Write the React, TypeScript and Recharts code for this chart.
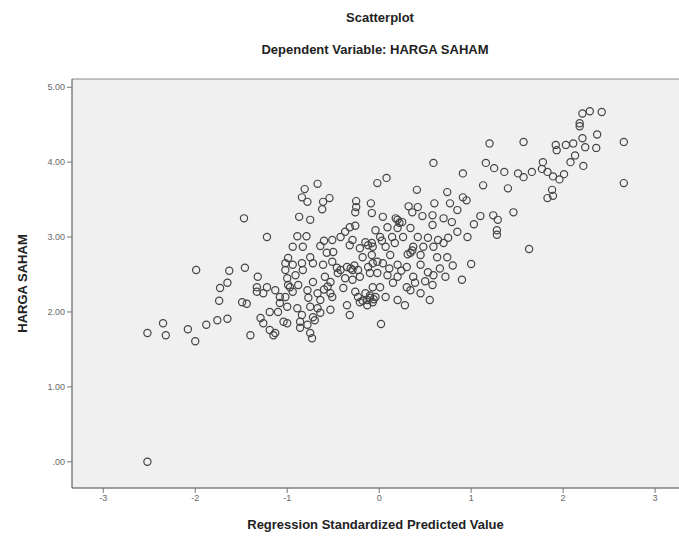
import React from 'react';
import {
	ScatterChart,
	Scatter,
	XAxis,
	YAxis,
	CartesianGrid,
	ReferenceLine,
} from 'recharts';

// [standardized predicted value, HARGA SAHAM]
const leftTail: [number, number][] = [
	[-2.52, 0.0], [-2.52, 1.72], [-2.35, 1.85], [-2.32, 1.69], [-2.08, 1.77],
	[-2.0, 1.61], [-1.99, 2.56], [-1.88, 1.83], [-1.76, 1.89], [-1.65, 1.91],
	[-1.63, 2.55], [-1.65, 2.39], [-1.73, 2.32], [-1.74, 2.15], [-1.47, 3.25],
	[-1.46, 2.59], [-1.49, 2.13], [-1.44, 2.11], [-1.4, 1.69], [-1.32, 2.47],
	[-1.33, 2.33], [-1.33, 2.27], [-1.22, 2.33], [-1.26, 2.25], [-1.22, 3.0],
	[-1.29, 1.92], [-1.26, 1.85], [-1.19, 1.76], [-1.15, 1.69], [-1.19, 2.0],
	[-1.1, 2.0], [-1.13, 2.29], [-1.08, 2.2], [-0.99, 2.36], [-0.94, 2.27],
	[-1.08, 2.12], [-1.02, 2.56], [-1.02, 2.65], [-0.94, 2.63], [-1.0, 1.85],
	[-1.04, 1.87], [-1.13, 1.72],
];

const midLeft: [number, number][] = [
	[-0.84, 2.65], [-0.75, 2.73], [-0.89, 2.05], [-0.84, 1.96], [-0.78, 1.83],
	[-0.75, 1.72], [-0.73, 1.65], [-0.86, 1.79], [-0.7, 1.89], [-0.64, 1.99],
	[-0.53, 2.03], [-0.32, 1.96], [-0.35, 2.09], [0.02, 1.84], [-0.21, 2.13],
	[-0.13, 2.16], [-0.07, 2.13], [0.07, 2.2], [-0.67, 3.71], [-0.81, 3.64],
	[-0.84, 3.53], [-0.78, 3.47], [-0.61, 3.47], [-0.54, 3.52], [-0.62, 3.37],
	[-0.25, 3.48], [-0.25, 3.4], [-0.26, 3.33], [-0.09, 3.45], [-0.08, 3.32],
	[-0.02, 3.72], [0.08, 3.79], [-0.87, 3.27], [-0.75, 3.23], [-0.32, 3.13],
	[-0.26, 3.15], [-0.37, 3.07], [-0.89, 3.01], [-0.79, 3.01], [-0.94, 2.87],
	[-0.83, 2.87], [-0.6, 2.95], [-0.51, 2.96], [-0.42, 3.0], [-0.29, 2.96],
	[-0.21, 2.85], [-0.32, 2.89], [-0.08, 2.92], [-0.04, 3.09], [-0.99, 2.72],
	[-0.64, 2.88], [-0.57, 2.79], [-0.5, 2.8], [-0.18, 2.73], [-0.08, 2.76],
	[-0.83, 2.56], [-0.72, 2.65], [-0.61, 2.63], [-0.51, 2.67], [-0.46, 2.59],
	[-0.35, 2.6], [-0.29, 2.56], [-0.23, 2.56], [-0.12, 2.6], [-0.02, 2.67],
	[-1.0, 2.45], [-0.91, 2.49], [-0.72, 2.4], [-0.59, 2.47], [-0.53, 2.4],
	[-0.37, 2.45], [-0.29, 2.43], [-0.21, 2.47], [-0.1, 2.52], [-0.97, 2.33],
	[-0.88, 2.36], [-0.78, 2.29], [-0.67, 2.25], [-0.53, 2.25], [-0.39, 2.32],
	[-0.26, 2.27], [-0.15, 2.25], [-0.07, 2.33], [-0.1, 2.19], [-1.02, 2.2],
	[-0.77, 2.19], [-0.64, 2.16], [-0.51, 2.2], [-1.0, 2.07], [-0.75, 2.07],
	[-0.67, 2.05], [-0.86, 1.87], [-0.72, 1.93], [-0.13, 2.09],
	// overlapping rings in the dark centre
	[-0.31, 2.58], [-0.27, 2.62], [-0.1, 2.22], [-0.06, 2.17], [-0.18, 2.15],
	[-0.23, 2.2], [-0.45, 2.52], [-0.42, 2.56], [-0.6, 2.3], [-0.56, 2.34],
	[-0.15, 2.93], [-0.12, 2.89],
];

const midRight: [number, number][] = [
	[0.59, 3.99], [0.91, 3.85], [0.41, 3.63], [0.74, 3.6], [0.91, 3.53],
	[0.32, 3.41], [0.42, 3.4], [0.6, 3.45], [0.77, 3.45], [0.85, 3.36],
	[0.04, 3.27], [0.2, 3.23], [0.25, 3.2], [0.36, 3.33], [0.47, 3.28],
	[0.58, 3.29], [0.7, 3.25], [0.79, 3.2], [0.09, 3.13], [0.2, 3.12],
	[0.34, 3.12], [0.58, 3.16], [0.85, 3.07], [0.01, 3.0], [0.14, 3.0],
	[0.26, 3.0], [0.42, 3.0], [0.53, 2.99], [0.64, 2.96], [0.75, 2.99],
	[0.96, 3.0], [-0.07, 2.87], [0.07, 2.87], [0.17, 2.92], [0.37, 2.87],
	[0.48, 2.87], [0.59, 2.87], [0.7, 2.92], [0.12, 2.76], [0.34, 2.79],
	[0.45, 2.76], [0.63, 2.73], [0.74, 2.73], [-0.07, 2.65], [0.04, 2.65],
	[0.2, 2.63], [0.3, 2.6], [0.45, 2.63], [-0.02, 2.52], [0.09, 2.49],
	[0.2, 2.47], [0.37, 2.47], [0.53, 2.53], [0.59, 2.49], [0.72, 2.47],
	[0.01, 2.33], [0.15, 2.39], [0.3, 2.33], [0.39, 2.39], [0.58, 2.36],
	[0.9, 2.43], [-0.04, 2.2], [0.34, 2.29], [0.45, 2.25], [1.0, 2.64],
	[0.2, 2.16], [0.28, 2.09], [0.55, 2.16],
	// overlapping rings in the dark centre
	[0.18, 3.25], [0.22, 3.19], [0.31, 2.77], [0.36, 2.82], [0.11, 2.58],
	[0.24, 2.55], [0.5, 2.41], [0.66, 2.58], [0.8, 2.62], [0.03, 2.95],
];

const rightTail: [number, number][] = [
	[1.2, 4.25], [1.57, 4.27], [1.16, 3.99], [1.25, 3.92], [1.36, 3.87],
	[1.51, 3.85], [1.57, 3.8], [1.66, 3.87], [1.13, 3.69], [1.4, 3.65],
	[1.1, 3.28], [1.03, 3.17], [1.24, 3.29], [1.29, 3.23], [1.46, 3.33],
	[1.28, 3.09], [1.28, 3.03], [1.63, 2.84], [0.95, 3.49], [2.21, 4.65],
	[2.29, 4.68], [2.42, 4.67], [2.18, 4.52], [2.18, 4.48], [2.37, 4.37],
	[2.21, 4.32], [2.66, 4.27], [1.92, 4.23], [1.93, 4.16], [2.03, 4.23],
	[2.11, 4.25], [2.24, 4.2], [2.36, 4.19], [2.13, 4.09], [2.08, 4.0],
	[2.22, 3.95], [1.78, 4.0], [1.77, 3.91], [1.83, 3.87], [1.89, 3.81],
	[1.96, 3.77], [2.01, 3.84], [2.66, 3.72], [1.88, 3.63], [1.89, 3.55],
	[1.83, 3.52],
];

const xTicks = [-3, -2, -1, 0, 1, 2, 3];
const yTicks = [0, 1, 2, 3, 4, 5];

const points = [...leftTail, ...midLeft, ...midRight, ...rightTail].map(([x, y]) => ({ x, y }));

const tickStyle = { fontSize: 9, fill: '#666', fontFamily: 'Liberation Sans, Arial, sans-serif' };

const Ring = (props: any) => (
	<circle cx={props.cx} cy={props.cy} r={3.6} fill="none" stroke="#444" strokeWidth={1.2} />
);

const App = () => {
	return (
		<div
			style={{
				position: 'absolute',
				left: 0,
				top: 0,
				width: 679,
				height: 538,
				background: '#fff',
				fontFamily: 'Liberation Sans, Arial, sans-serif',
			}}
		>
			<div style={{ position: 'absolute', left: 280, top: 10, width: 200, textAlign: 'center', fontSize: 13, fontWeight: 'bold', color: '#222' }}>
				Scatterplot
			</div>
			<div style={{ position: 'absolute', left: 175, top: 42, width: 400, textAlign: 'center', fontSize: 13, fontWeight: 'bold', color: '#222' }}>
				Dependent Variable: HARGA SAHAM
			</div>
			<ScatterChart width={679} height={538} margin={{ top: 79, right: 0, bottom: 0, left: 0 }}>
				<CartesianGrid horizontal={false} vertical={false} fill="#f0f0f0" />
				<XAxis
					type="number"
					dataKey="x"
					domain={[-3.34, 3.26]}
					ticks={xTicks}
					allowDataOverflow
					height={50}
					tick={tickStyle}
					tickLine={{ stroke: '#777' }}
					axisLine={{ stroke: '#444' }}
					tickSize={5}
					label={{
						value: 'Regression Standardized Predicted Value',
						position: 'insideBottom',
						offset: 9,
						style: { fontSize: 13, fontWeight: 'bold', fill: '#222' },
					}}
				/>
				<YAxis
					type="number"
					dataKey="y"
					domain={[-0.35, 5.11]}
					ticks={yTicks}
					allowDataOverflow
					width={72}
					tick={tickStyle}
					tickLine={{ stroke: '#777' }}
					axisLine={{ stroke: '#444' }}
					tickSize={5}
					tickFormatter={(v: number) => (v === 0 ? '.00' : v.toFixed(2))}
					label={{
						value: 'HARGA SAHAM',
						angle: -90,
						position: 'insideLeft',
						offset: 22,
						style: { fontSize: 13, fontWeight: 'bold', fill: '#222', textAnchor: 'middle' },
					}}
				/>
				<ReferenceLine y={5.11} stroke="#888" ifOverflow="extendDomain" />
				<Scatter data={points} shape={Ring} isAnimationActive={false} />
			</ScatterChart>
		</div>
	);
};

export default App;
